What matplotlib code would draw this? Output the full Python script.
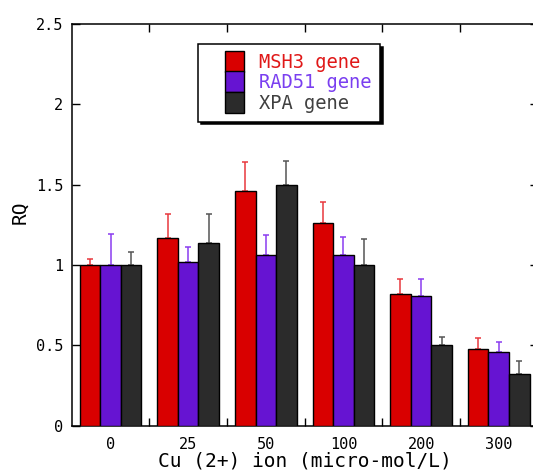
import numpy as np
import matplotlib
matplotlib.use("Agg")
import matplotlib.pyplot as plt
from matplotlib.patches import Patch, Rectangle
from matplotlib.legend_handler import HandlerPatch

# Copper ion concentrations (micro-mol/L)
concentrations = ["0", "25", "50", "100", "200", "300"]

# Relative quantification (RQ) per gene
msh3 = [1.00, 1.17, 1.46, 1.26, 0.82, 0.48]
rad51 = [1.00, 1.02, 1.06, 1.06, 0.81, 0.46]
xpa = [1.00, 1.14, 1.50, 1.00, 0.50, 0.32]

# Upper error (SD)
msh3_err = [0.035, 0.15, 0.18, 0.13, 0.09, 0.065]
rad51_err = [0.195, 0.095, 0.125, 0.115, 0.10, 0.06]
xpa_err = [0.08, 0.18, 0.145, 0.16, 0.05, 0.085]

series_names = ["MSH3 gene", "RAD51 gene", "XPA gene"]
fill_colors = ["#d90000", "#6614d2", "#2b2b2b"]
err_colors = ["#e8383d", "#8a3cf0", "#555555"]
text_colors = ["#e01818", "#7a3ff0", "#404040"]

plt.rcParams["font.family"] = ["DejaVu Sans Mono", "DejaVu Sans"]


class SquareAtRight(HandlerPatch):
    """Legend key drawn as a square at the right end of the handle box."""

    def create_artists(self, legend, orig_handle, xdescent, ydescent,
                       width, height, fontsize, trans):
        side_w = fontsize * 1.0
        side_h = fontsize * 1.12
        x0 = -xdescent + width - side_w
        y0 = -ydescent + height / 2 - side_h / 2
        rect = Rectangle((x0, y0), side_w, side_h,
                         facecolor=orig_handle.get_facecolor(),
                         edgecolor="black", linewidth=1.0,
                         transform=trans)
        return [rect]


fig = plt.figure(figsize=(5.33, 4.74), dpi=100)
ax = fig.add_axes([0.1345, 0.1019, 0.8740, 0.8475])

x = np.arange(len(concentrations))
width = 0.265
values = [msh3, rad51, xpa]
errors = [msh3_err, rad51_err, xpa_err]

for i, (vals, errs) in enumerate(zip(values, errors)):
    pos = x + (i - 1) * width
    ax.errorbar(pos, vals, yerr=[np.zeros(len(vals)), errs], fmt="none",
                ecolor=err_colors[i], elinewidth=1.1, capsize=2.0,
                capthick=1.1, zorder=2)
    ax.bar(pos, vals, width=width, color=fill_colors[i],
           edgecolor="black", linewidth=1.0, zorder=3)

ax.set_xlim(-0.5, len(concentrations) - 0.5)
ax.set_ylim(0, 2.5)

ax.set_xticks(x)
ax.set_xticklabels(concentrations)
ax.set_xticks(np.arange(0.5, len(concentrations) - 0.5, 1.0), minor=True)
ax.tick_params(axis="x", which="major", length=0, pad=8, labelsize=11)
ax.tick_params(axis="x", which="minor", direction="in", length=6,
               width=1.0, top=True, bottom=True)

ax.set_yticks([0, 0.5, 1, 1.5, 2, 2.5])
ax.set_yticklabels(["0", "0.5", "1", "1.5", "2", "2.5"])
ax.tick_params(axis="y", which="major", direction="in", length=6,
               width=1.0, left=True, right=True, pad=6, labelsize=11)

for spine in ax.spines.values():
    spine.set_linewidth(1.1)
# the right frame edge falls just past the figure's border
ax.spines["right"].set_visible(False)

ax.set_xlabel("Cu (2+) ion (micro-mol/L)", fontsize=14, labelpad=0)
ax.set_ylabel("RQ", fontsize=14)
ax.yaxis.set_label_coords(-0.09, 0.532)

handles = [Patch(facecolor=c, edgecolor="black") for c in fill_colors]
leg = ax.legend(handles, series_names, loc="upper left",
                bbox_to_anchor=(0.2714, 0.950), borderaxespad=0,
                fontsize=13.5, fancybox=False, frameon=True,
                edgecolor="black", framealpha=1,
                shadow={"color": "black", "alpha": 1.0},
                handler_map={Patch: SquareAtRight()},
                handlelength=2.0, handleheight=1.0, handletextpad=0.8,
                labelspacing=0.1, borderpad=0.45)
leg.get_frame().set_linewidth(1.1)
for txt, c in zip(leg.get_texts(), text_colors):
    txt.set_color(c)

fig.savefig("out.png", dpi=100)
